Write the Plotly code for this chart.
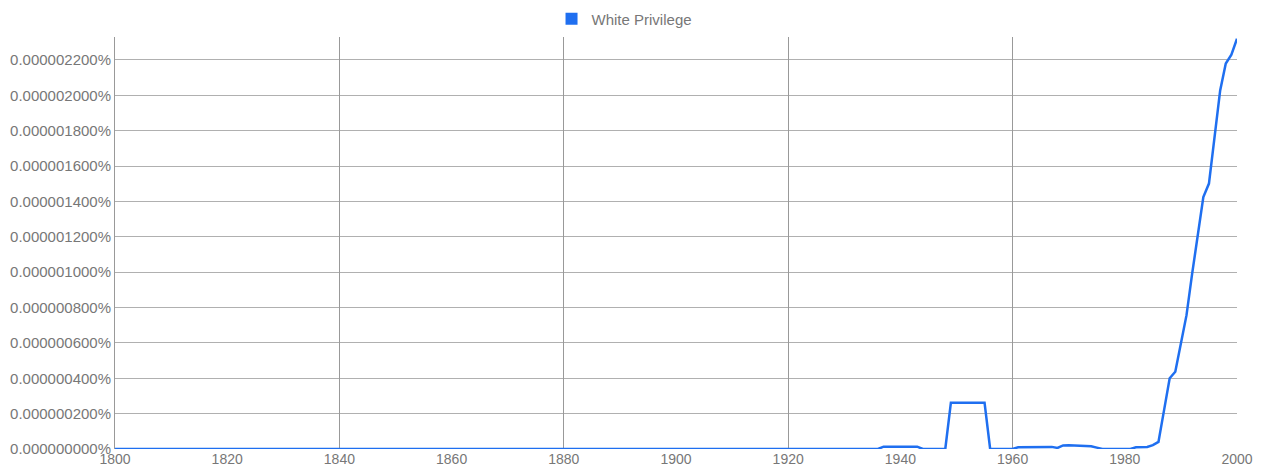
import plotly.graph_objects as go

series_name = "White Privilege"
years = list(range(1800, 2001))

# values in percent (non-zero years only)
nonzero_years = [1937, 1938, 1939, 1940, 1941, 1942, 1943,
                 1949, 1950, 1951, 1952, 1953, 1954, 1955,
                 1961, 1962, 1963, 1964, 1965, 1966, 1967, 1968,
                 1969, 1970, 1971, 1972, 1973, 1974, 1975,
                 1982, 1983, 1984, 1985, 1986, 1987, 1988, 1989, 1990,
                 1991, 1992, 1993, 1994, 1995, 1996, 1997, 1998, 1999, 2000]
nonzero_values = [1.3e-8, 1.3e-8, 1.3e-8, 1.3e-8, 1.3e-8, 1.3e-8, 1.3e-8,
                  2.62e-7, 2.62e-7, 2.62e-7, 2.62e-7, 2.62e-7, 2.62e-7, 2.62e-7,
                  1.0e-8, 1.1e-8, 1.1e-8, 1.3e-8, 1.3e-8, 1.3e-8, 1.2e-8, 0.6e-8,
                  2.0e-8, 2.1e-8, 2.0e-8, 1.8e-8, 1.8e-8, 1.6e-8, 0.8e-8,
                  1.0e-8, 1.0e-8, 1.1e-8, 2.2e-8, 4.0e-8, 2.2e-7, 4.0e-7, 4.37e-7, 5.97e-7,
                  7.57e-7, 9.9e-7, 1.2e-6, 1.425e-6, 1.501e-6, 1.76e-6, 2.028e-6, 2.18e-6, 2.23e-6, 2.32e-6]

lookup = dict(zip(nonzero_years, nonzero_values))
values = [lookup.get(y, 0.0) for y in years]

y_ticks = [i * 2e-7 for i in range(12)]
y_ticktext = ["%.9f%%" % v for v in y_ticks]
x_label_ticks = list(range(1800, 2001, 20))
x_grid_ticks = list(range(1800, 2001, 40))

fig = go.Figure()
fig.add_trace(go.Scatter(x=years, y=values, mode="lines", name=series_name,
                         line=dict(color="#1f6ff0", width=2.5), showlegend=False,
                         hoverinfo="skip"))
fig.add_trace(go.Scatter(x=[None], y=[None], mode="markers", name=series_name,
                         marker=dict(symbol="square", size=16, color="#1f6ff0"),
                         showlegend=True))
# overlay axis only for the 40-year vertical grid lines
fig.add_trace(go.Scatter(x=[1800, 2000], y=[0, 0], xaxis="x2", mode="lines",
                         line=dict(width=0), showlegend=False, hoverinfo="skip"))

fig.update_layout(
    width=1265, height=465,
    margin=dict(l=115, r=28, t=37, b=16, autoexpand=False),
    paper_bgcolor="white", plot_bgcolor="white",
    font=dict(family="Liberation Sans, Arial, sans-serif", size=15, color="#777777"),
    legend=dict(orientation="h", x=0.4937, xanchor="center", xref="container",
                y=1.0437, yanchor="middle", font=dict(size=15, color="#777777"),
                itemsizing="constant"),
    xaxis=dict(range=[1800, 2000], tickvals=x_label_ticks, ticktext=[str(v) for v in x_label_ticks],
               showgrid=False, zeroline=False, showline=False, ticks="", automargin=False,
               tickfont=dict(size=14, color="#777777"), ticklabelstandoff=0),
    xaxis2=dict(range=[1800, 2000], overlaying="x", tickvals=x_grid_ticks,
                showticklabels=False, showgrid=True, gridcolor="#999999", gridwidth=1,
                zeroline=False, showline=False, ticks="", automargin=False),
    yaxis=dict(range=[0, 2.33e-6], tickvals=y_ticks, ticktext=y_ticktext,
               showgrid=True, gridcolor="#b0b0b0", gridwidth=1, zeroline=False,
               showline=True, linecolor="#999999", linewidth=1, ticks="", automargin=False,
               tickfont=dict(size=15, color="#777777")),
)

fig.write_html("out.html", config={"displayModeBar": False},
               post_script="document.body.style.margin='0';document.body.style.overflow='hidden';")
